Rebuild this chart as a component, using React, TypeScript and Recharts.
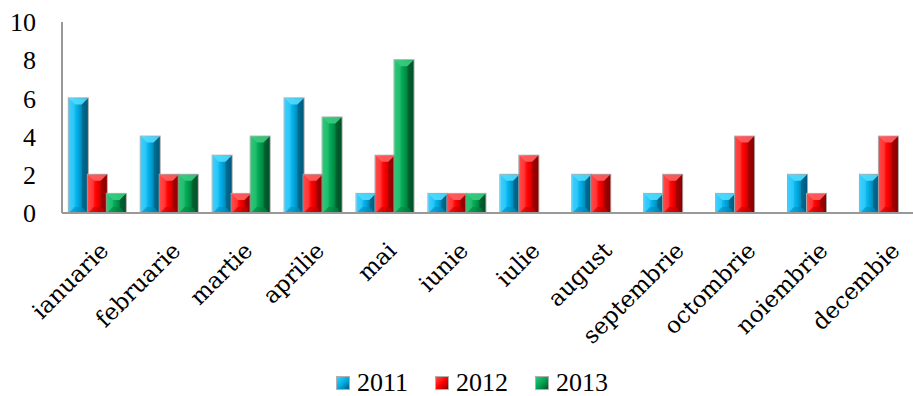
import React from 'react';
import { BarChart, Bar, XAxis, YAxis, Legend } from 'recharts';

const months = ['ianuarie', 'februarie', 'martie', 'aprilie', 'mai', 'iunie', 'iulie', 'august', 'septembrie', 'octombrie', 'noiembrie', 'decembie'];
const s2011 = [6, 4, 3, 6, 1, 1, 2, 2, 1, 1, 2, 2];
const s2012 = [2, 2, 1, 2, 3, 1, 3, 2, 2, 4, 1, 4];
const s2013 = [1, 2, 4, 5, 8, 1, 0, 0, 0, 0, 0, 0];
const yTicks = [0, 2, 4, 6, 8, 10];
const seriesNames = ['2011', '2012', '2013'];

const data = months.map((m, i) => ({ month: m, '2011': s2011[i], '2012': s2012[i], '2013': s2013[i] }));

const LABEL_FONT = '"DejaVu Serif", serif';
const NUM_FONT = '"Liberation Serif", serif';

const palette: Record<string, { light: string; base: string; dark: string; top: string; bottom: string }> = {
  '2011': { light: '#3cd0ff', base: '#00aee6', dark: '#005a7c', top: '#50dcff', bottom: '#0088b8' },
  '2012': { light: '#ff4a4a', base: '#ff0000', dark: '#8a0000', top: '#ff6060', bottom: '#c00000' },
  '2013': { light: '#2cc878', base: '#00a452', dark: '#005226', top: '#38cc80', bottom: '#00803e' },
};

const makeShape = (key: string) => (props: any) => {
  const { x, y, width, height } = props;
  if (!height || height <= 0) return <g />;
  const c = palette[key];
  const b = Math.min(6, height / 2, width / 2);
  const x2 = x + width;
  const y2 = y + height;
  return (
    <g>
      <rect x={x - 0.5} y={y - 0.5} width={width + 1} height={height + 0.5} fill="none" stroke="#a8a8a8" strokeWidth={1} />
      <rect x={x} y={y} width={width} height={height} fill={`url(#grad${key})`} />
      <polygon points={`${x},${y} ${x2},${y} ${x2 - b},${y + b} ${x + b},${y + b}`} fill={c.top} opacity={0.9} />
      <polygon points={`${x},${y} ${x + b},${y + b} ${x + b},${y2 - b} ${x},${y2}`} fill={c.light} opacity={0.5} />
      <polygon points={`${x2},${y} ${x2 - b},${y + b} ${x2 - b},${y2 - b} ${x2},${y2}`} fill={c.dark} opacity={0.6} />
      <polygon points={`${x},${y2} ${x + b},${y2 - b} ${x2 - b},${y2 - b} ${x2},${y2}`} fill={c.bottom} opacity={0.5} />
    </g>
  );
};

const CatTick = (props: any) => {
  const { x, y, payload } = props;
  const ax = x + 12;
  const ay = y + 31;
  return (
    <text x={ax} y={ay} transform={`rotate(-45 ${ax} ${ay})`} textAnchor="end" fontFamily={LABEL_FONT} fontSize={23} fill="#000">
      {payload.value}
    </text>
  );
};

const LegendContent = () => (
  <div style={{ display: 'flex', justifyContent: 'flex-start', alignItems: 'center', fontFamily: NUM_FONT, fontSize: 26, lineHeight: '30px', color: '#000', paddingLeft: 337 }}>
    {seriesNames.map((n) => (
      <div key={n} style={{ display: 'flex', alignItems: 'center', marginRight: 28 }}>
        <div style={{ width: 12, height: 12, marginRight: 8, background: `linear-gradient(135deg, ${palette[n].light}, ${palette[n].base} 50%, ${palette[n].dark})`, boxShadow: '0 0 0 1px #b0b0b0' }} />
        <span>{n}</span>
      </div>
    ))}
  </div>
);

export default function App() {
  return (
    <div style={{ position: 'absolute', left: 0, top: 0, width: 913, height: 396, overflow: 'hidden', background: '#fff' }}>
      <BarChart width={925} height={396} data={data} margin={{ top: 22, right: 0, left: 0, bottom: 0 }} barCategoryGap="9.5%" barGap={0}>
        <defs>
          {seriesNames.map((n) => (
            <linearGradient key={n} id={`grad${n}`} x1="0" y1="0" x2="1" y2="0">
              <stop offset="0%" stopColor={palette[n].light} />
              <stop offset="45%" stopColor={palette[n].base} />
              <stop offset="100%" stopColor={palette[n].dark} />
            </linearGradient>
          ))}
        </defs>
        <XAxis dataKey="month" height={183} interval={0} tickLine={false} axisLine={{ stroke: '#999', strokeWidth: 2 }} tick={<CatTick />} />
        <YAxis width={62} domain={[0, 10]} ticks={yTicks} tickLine={false} tickSize={0} tickMargin={26} axisLine={{ stroke: '#999', strokeWidth: 2 }} tick={{ fontFamily: NUM_FONT, fontSize: 26, fill: '#000' }} interval={0} />
        <Legend layout="horizontal" verticalAlign="middle" align="center" wrapperStyle={{ top: 368, left: 0, width: 913 }} content={<LegendContent />} />
        {seriesNames.map((n) => (
          <Bar key={n} dataKey={n} isAnimationActive={false} shape={makeShape(n)} />
        ))}
      </BarChart>
    </div>
  );
}
